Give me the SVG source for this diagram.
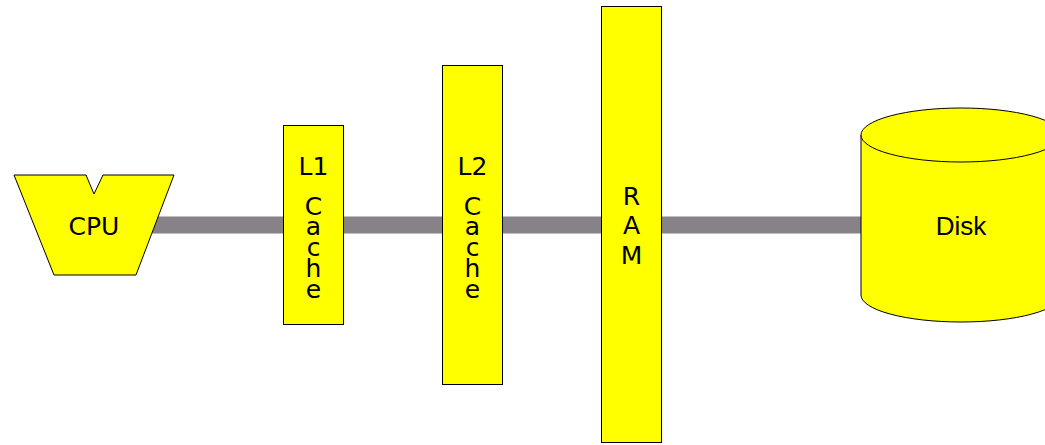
<svg xmlns="http://www.w3.org/2000/svg" width="1045" height="445" viewBox="0 0 1045 445">
<style>
.n{fill:#ffff00;stroke:#000;stroke-width:1}
.t{font-family:"DejaVu Sans",sans-serif;font-size:25px;fill:#000;text-anchor:middle}
.c{stroke:#878287;stroke-width:17;fill:none}
</style>
<rect width="1045" height="445" fill="#fff"/>
<g id="connectors">
<line class="c" x1="150" y1="225" x2="290" y2="225"/>
<line class="c" x1="340" y1="225" x2="450" y2="225"/>
<line class="c" x1="500" y1="225" x2="610" y2="225"/>
<line class="c" x1="660" y1="225" x2="870" y2="225"/>
</g>
<g id="cpu">
<polygon class="n" points="14,175 86,175 94,194 103,175 174,175 136,275 54,275"/>
<text class="t" x="94" y="235">CPU</text>
</g>
<g id="l1">
<rect class="n" x="283.5" y="125.5" width="60" height="199"/>
<text class="t" x="313.5" y="175">L1</text>
<text class="t" x="313.5 313.5 313.5 313.5 313.5" y="215 235 256 277 298">Cache</text>
</g>
<g id="l2">
<rect class="n" x="442.5" y="65.5" width="60" height="319"/>
<text class="t" x="472.5" y="175">L2</text>
<text class="t" x="472.5 472.5 472.5 472.5 472.5" y="215 235 256 277 298">Cache</text>
</g>
<g id="ram">
<rect class="n" x="601.5" y="6.5" width="60" height="436"/>
<text class="t" x="631.5 631.5 631.5" y="205 234 264">RAM</text>
</g>
<g id="disk">
<path class="n" d="M861,135 L861,295 A100,27 0 0 0 1061,295 L1061,135 A100,27 0 0 0 861,135 Z"/>
<path class="n" d="M861,135 A100,27 0 0 0 1061,135" fill="none"/>
<text class="t" x="961" y="235" style="font-family:'Liberation Sans',sans-serif;font-size:26px">Disk</text>
</g>
</svg>
